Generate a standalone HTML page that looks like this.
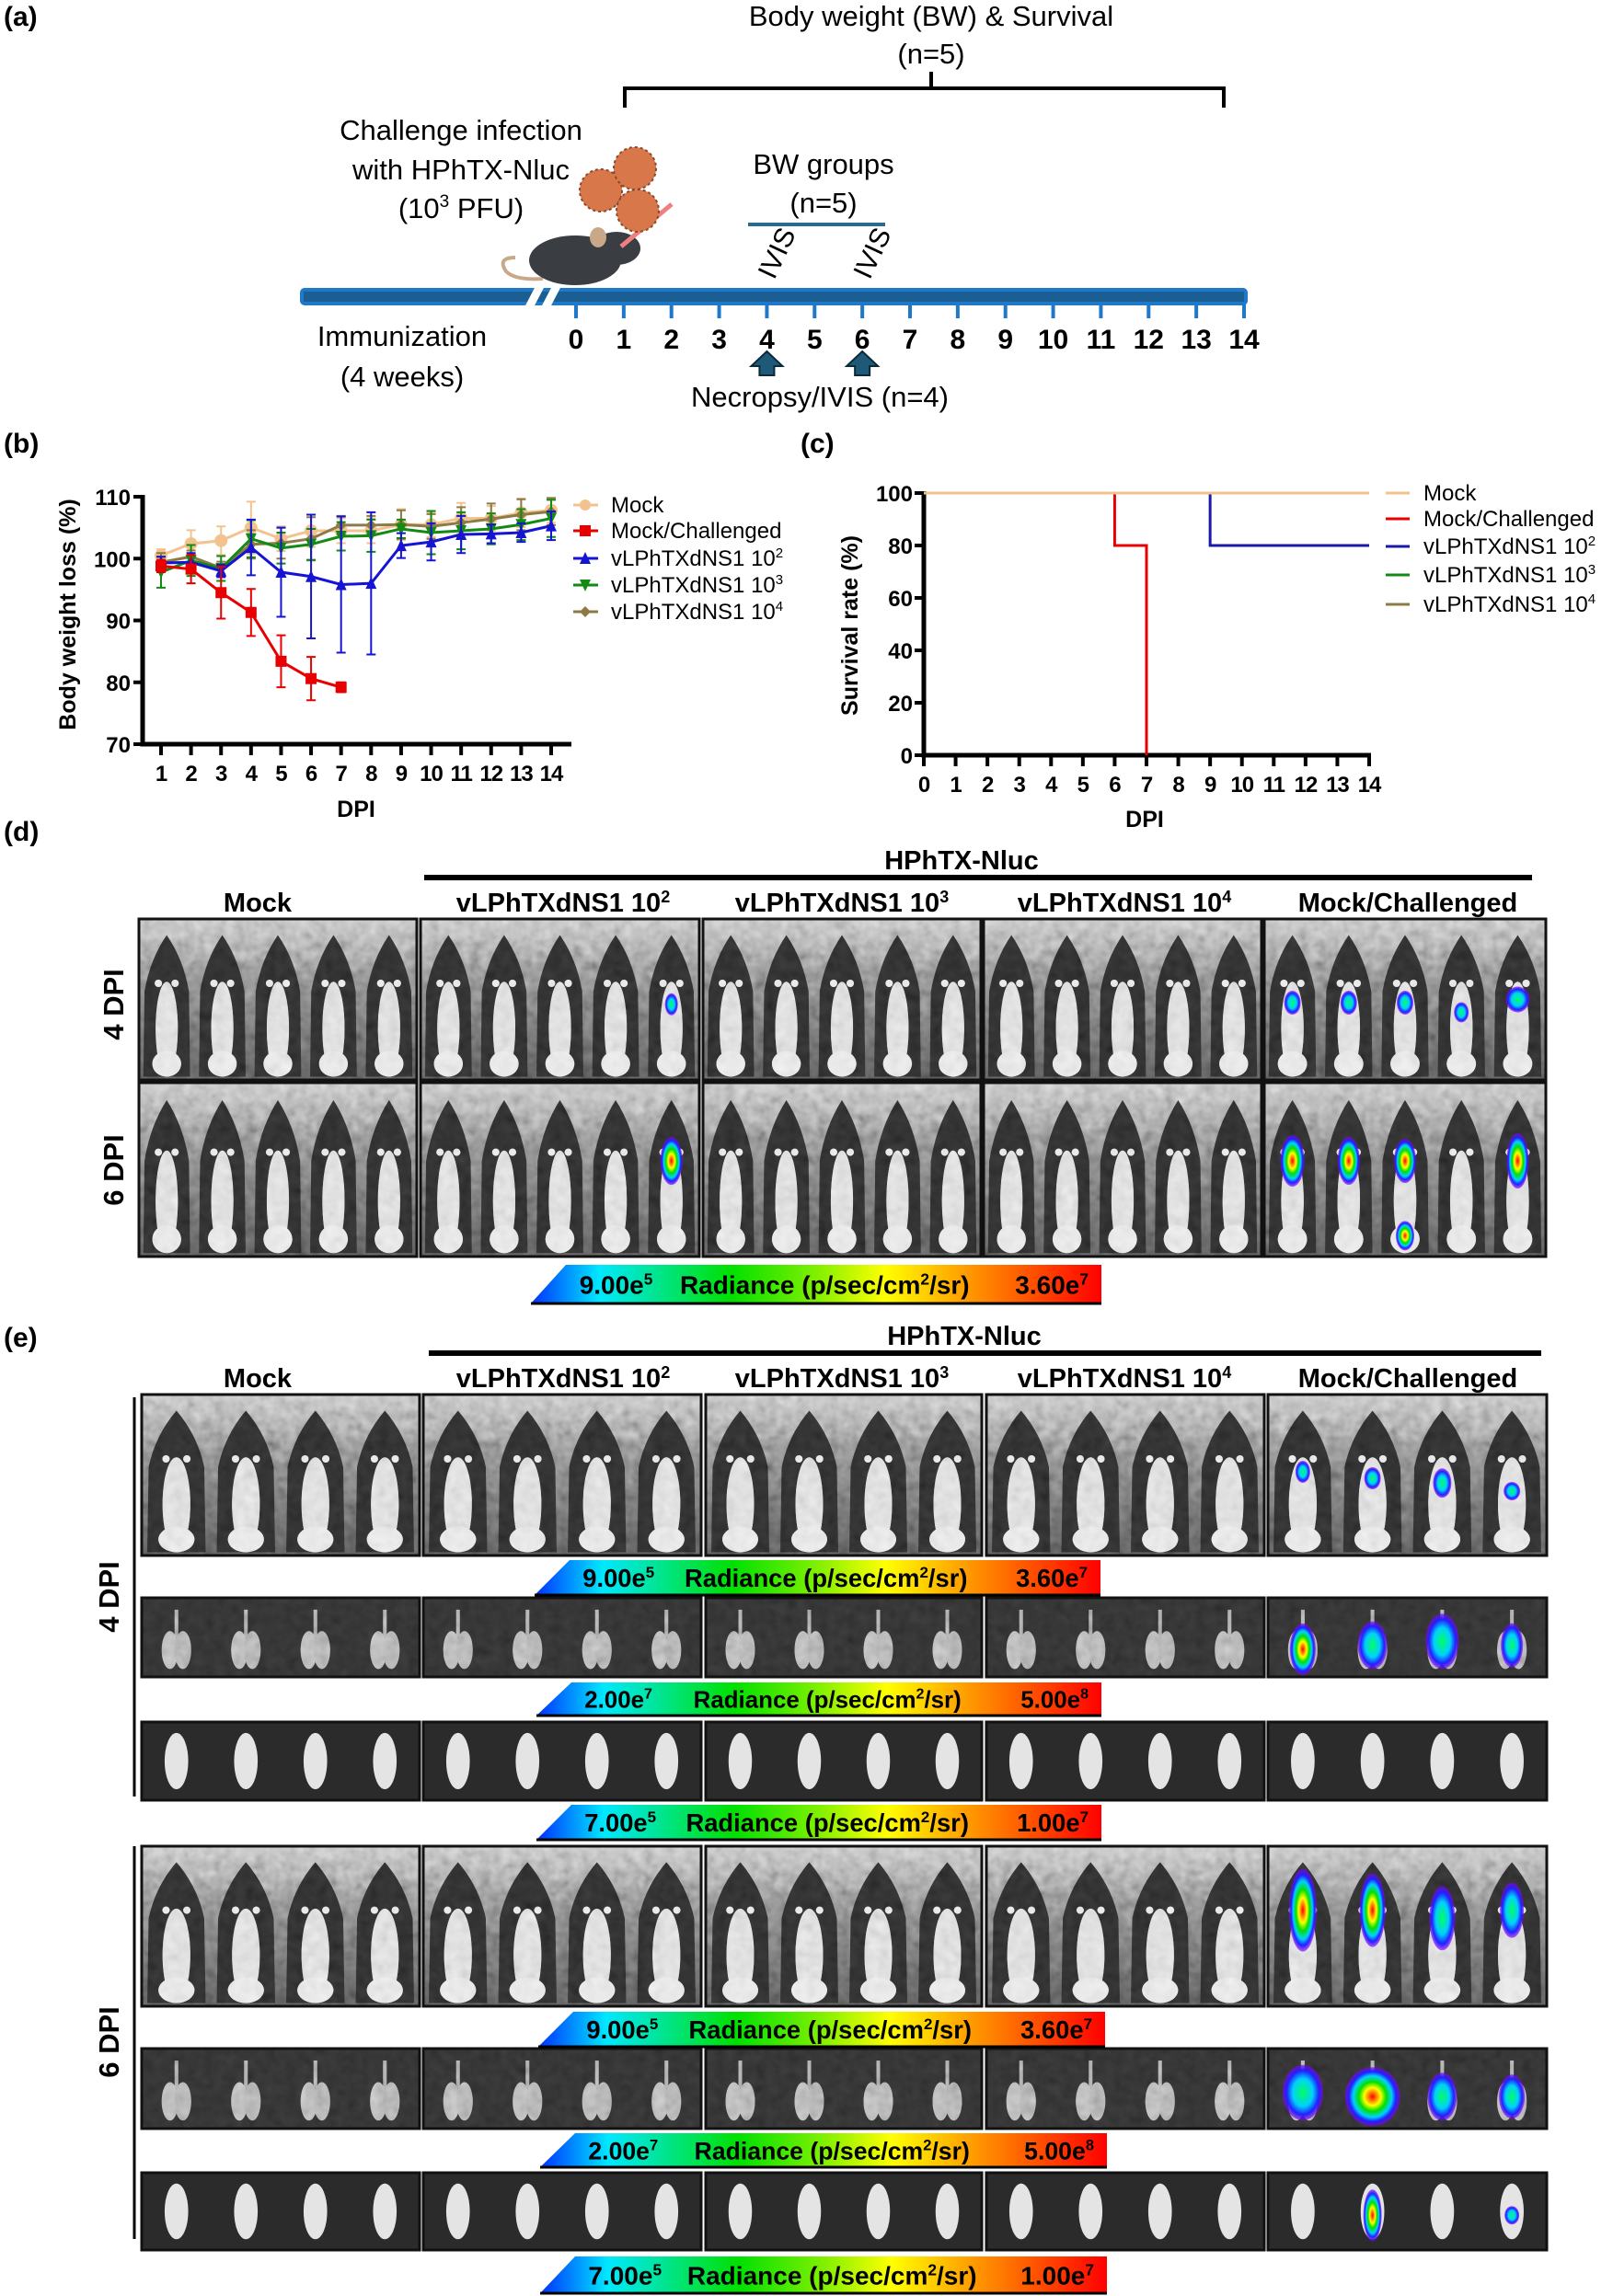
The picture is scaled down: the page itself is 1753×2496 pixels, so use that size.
<!DOCTYPE html>
<html><head><meta charset="utf-8"><style>
html,body{margin:0;padding:0;background:#fff;}
svg{display:block;font-family:"Liberation Sans",Arial,sans-serif;}
</style></head><body>
<svg id="fig" width="1753" height="2496" viewBox="0 0 1753 2496" xmlns="http://www.w3.org/2000/svg">
<defs>
<linearGradient id="cbg" x1="0" x2="1" y1="0" y2="0">
<stop offset="0" stop-color="#0030ff"/><stop offset="0.12" stop-color="#00e8ff"/><stop offset="0.35" stop-color="#00e000"/><stop offset="0.5" stop-color="#80f000"/><stop offset="0.62" stop-color="#ffff00"/><stop offset="0.78" stop-color="#ff9000"/><stop offset="1" stop-color="#ff0000"/>
</linearGradient>
<linearGradient id="mbg" x1="0" x2="0" y1="0" y2="1"><stop offset="0" stop-color="#b0b0b0"/><stop offset="0.3" stop-color="#767676"/><stop offset="1" stop-color="#4a4a4a"/></linearGradient>
<radialGradient id="blob"><stop offset="0" stop-color="#ff0000"/><stop offset="0.3" stop-color="#ffff00"/><stop offset="0.5" stop-color="#00e000"/><stop offset="0.7" stop-color="#00d0ff"/><stop offset="0.85" stop-color="#2020ff"/><stop offset="1" stop-color="#8000ff" stop-opacity="0.6"/></radialGradient>
<radialGradient id="blobc"><stop offset="0" stop-color="#00ff60"/><stop offset="0.5" stop-color="#00d0ff"/><stop offset="0.8" stop-color="#2020ff"/><stop offset="1" stop-color="#8000ff" stop-opacity="0.6"/></radialGradient>
<filter id="noise" x="0" y="0" width="100%" height="100%">
<feTurbulence type="fractalNoise" baseFrequency="0.09" numOctaves="2" seed="3"/>
<feColorMatrix type="matrix" values="0.33 0.33 0.33 0 0  0.33 0.33 0.33 0 0  0.33 0.33 0.33 0 0  0 0 0 0 1"/>
</filter>
</defs>

<!-- Panel a -->
<g>
<text x="4" y="28" font-size="30" font-weight="bold">(a)</text>
<text x="1012" y="28" font-size="31" text-anchor="middle">Body weight (BW) &amp; Survival</text>
<text x="1012" y="69" font-size="31" text-anchor="middle">(n=5)</text>
<path d="M679,117 V96 H1330 V117 M1012,96 V78" fill="none" stroke="#000" stroke-width="4"/>
<text x="501" y="152" font-size="31" text-anchor="middle">Challenge infection</text>
<text x="501" y="195" font-size="31" text-anchor="middle">with HPhTX-Nluc</text>
<text x="501" y="237" font-size="31" text-anchor="middle">(10<tspan font-size="19" dy="-12">3</tspan><tspan dy="12"> PFU)</tspan></text>
<g>
<path d="M560,280 q-20,0 -10,15 q10,10 40,8" fill="none" stroke="#c9a88a" stroke-width="4"/>
<ellipse cx="625" cy="283" rx="50" ry="27" fill="#3a3d42"/>
<ellipse cx="670" cy="270" rx="26" ry="18" fill="#3a3d42"/>
<ellipse cx="650" cy="258" rx="9" ry="11" fill="#c9a88a"/>
<line x1="675" y1="268" x2="730" y2="222" stroke="#f08080" stroke-width="5"/>
<circle cx="653" cy="207" r="23" fill="#d8774a" stroke="#8a4a2a" stroke-width="2" stroke-dasharray="3 3"/>
<circle cx="690" cy="183" r="23" fill="#d8774a" stroke="#8a4a2a" stroke-width="2" stroke-dasharray="3 3"/>
<circle cx="693" cy="229" r="23" fill="#d8774a" stroke="#8a4a2a" stroke-width="2" stroke-dasharray="3 3"/>
</g>
<text x="895" y="189" font-size="31" text-anchor="middle">BW groups</text>
<text x="895" y="231" font-size="31" text-anchor="middle">(n=5)</text>
<line x1="813" y1="244" x2="962" y2="244" stroke="#2a6a8a" stroke-width="4"/>
<g>
<rect x="326" y="313" width="1030" height="19" rx="5" fill="#1f78c8"/>
<rect x="330" y="317" width="1022" height="11" fill="#1a5e94"/>
<polygon points="570,334 582,311 592,311 580,334" fill="#fff"/>
<polygon points="588,334 600,311 610,311 598,334" fill="#fff"/>
<g id="tl-ticks"></g>
</g>
<text x="437" y="376" font-size="31" text-anchor="middle">Immunization</text>
<text x="437" y="420" font-size="31" text-anchor="middle">(4 weeks)</text>
<text x="891" y="442" font-size="31" text-anchor="middle">Necropsy/IVIS (n=4)</text>
</g>

<!-- Panel b -->
<g id="chart-b">
<text x="4" y="492" font-size="30" font-weight="bold">(b)</text>
<text transform="translate(82,668) rotate(-90)" font-size="25" font-weight="bold" text-anchor="middle">Body weight loss (%)</text>
<text x="387" y="888" font-size="25" font-weight="bold" text-anchor="middle">DPI</text>
</g>

<!-- Panel c -->
<g id="chart-c">
<text x="870" y="492" font-size="30" font-weight="bold">(c)</text>
<text transform="translate(932,680) rotate(-90)" font-size="25" font-weight="bold" text-anchor="middle">Survival rate (%)</text>
<text x="1244" y="899" font-size="25" font-weight="bold" text-anchor="middle">DPI</text>
</g>

<!-- Panel d -->
<g id="panel-d">
<text x="4" y="914" font-size="30" font-weight="bold">(d)</text>
<text x="1045" y="945" font-size="29" font-weight="bold" text-anchor="middle">HPhTX-Nluc</text>
<rect x="461" y="951" width="1204" height="6" fill="#000"/>
<text transform="translate(134,1092) rotate(-90)" font-size="31" font-weight="bold" text-anchor="middle">4 DPI</text>
<text transform="translate(134,1272) rotate(-90)" font-size="31" font-weight="bold" text-anchor="middle">6 DPI</text>
</g>

<!-- Panel e -->
<g id="panel-e">
<text x="4" y="1464" font-size="30" font-weight="bold">(e)</text>
<text x="1048" y="1462" font-size="29" font-weight="bold" text-anchor="middle">HPhTX-Nluc</text>
<rect x="466" y="1468" width="1209" height="6" fill="#000"/>
<line x1="146" y1="1519" x2="146" y2="1953" stroke="#000" stroke-width="3"/>
<line x1="146" y1="2007" x2="146" y2="2434" stroke="#000" stroke-width="3"/>
<text transform="translate(129,1736) rotate(-90)" font-size="31" font-weight="bold" text-anchor="middle">4 DPI</text>
<text transform="translate(129,2220) rotate(-90)" font-size="31" font-weight="bold" text-anchor="middle">6 DPI</text>
</g>
</svg>

<script>
// ===== Data: body weight (b) =====
const bwDays = [1,2,3,4,5,6,7,8,9,10,11,12,13,14];
const bwMock = [100.5,102.4,102.9,105,103.2,104.5,104.5,104.5,105.5,105.5,106.5,106.5,107.4,107.8];
const bwMockSd = [1,2.2,2.3,4.2,2,2.6,2,2,2.5,2,2.5,2,2.3,2];
const bwChall = [98.8,98.3,94.5,91.3,83.4,80.6,79.2];
const bwChallSd = [1,2.3,4.2,3.8,4.2,3.5,0.8];
const bw102 = [99.3,99.4,98,101.8,97.8,97.1,95.8,96,102.1,102.7,103.9,104,104.2,105.3];
const bw102Sd = [1,1.5,1,4.5,7.2,10,11,11.5,2,3,3,1.5,1.5,2.3];
const bw103 = [97.8,99.7,98.4,103.2,101.7,102.3,103.6,103.7,104.8,104.2,104.5,104.8,105.5,106.5];
const bw103Sd = [2.5,2.5,2,3,2.5,2.5,2.3,2.6,1.5,3.5,3,2.5,2.5,3];
const bw104 = [99.4,100.3,98.5,102.3,102.5,103.2,105.4,105.4,105.5,105.2,105.8,106.4,107.1,107.6];
const bw104Sd = [1.5,1,1,2.3,2.5,3.5,1.5,1.5,2.3,2,2.5,2.5,2.5,2.2];
const bwYTicks = [70,80,90,100,110];
// ===== Data: survival (c) =====
const svDays = [0,1,2,3,4,5,6,7,8,9,10,11,12,13,14];
const svMockT = [0,14]; const svMockV = [100,100];
const svChallT = [0,6,6,7,7]; const svChallV = [100,100,80,80,0];
const sv102T = [0,9,9,14]; const sv102V = [100,100,80,80];
const sv103T = [0,14]; const sv103V = [100,100];
const sv104T = [0,14]; const sv104V = [100,100];
const svYTicks = [0,20,40,60,80,100];
const tlDays = [0,1,2,3,4,5,6,7,8,9,10,11,12,13,14];
const legendNames = ["Mock","Mock/Challenged","vLPhTXdNS1 10","vLPhTXdNS1 10","vLPhTXdNS1 10"];
const legendSup = ["","","2","3","4"];

const NS="http://www.w3.org/2000/svg";
function mk(tag,attrs,parent){const e=document.createElementNS(NS,tag);for(const k in attrs)e.setAttribute(k,attrs[k]);if(parent)parent.appendChild(e);return e;}

// timeline ticks
const tlx=d=>626+d*(1352-626)/14;
const tlg=document.getElementById('tl-ticks');
tlDays.forEach(d=>{
 const t=mk('line',{x1:tlx(d),x2:tlx(d),y1:330,y2:346,stroke:'#1f78c8','stroke-width':4},tlg);
 
 
 const l=mk('text',{x:tlx(d),y:379,'font-size':30,'font-weight':'bold','text-anchor':'middle'},tlg);
 l.textContent=d;
 
 
});
[4,6].forEach(d=>{
 const iv=mk('text',{transform:`translate(${tlx(d)+8},305) rotate(-65)`,'font-size':30},tlg);
 iv.textContent='IVIS';
 
 
 const x=tlx(d);
 const ar=mk('polygon',{points:`${x},382 ${x+17},398 ${x+8},398 ${x+8},408 ${x-8},408 ${x-8},398 ${x-17},398`,fill:'#1e5a78',stroke:'#0a2a3a','stroke-width':2},tlg);
 
 
});

// ===== Chart b =====
const gb=document.getElementById('chart-b');
const xB=d=>175+(d-1)*(599-175)/13;
const yB=v=>540+(110-v)*(809-540)/40;
mk('path',{d:`M155,538 V809 H621`,fill:'none',stroke:'#000','stroke-width':5},gb);
bwYTicks.forEach(v=>{
 const t=mk('line',{x1:145,x2:155,y1:yB(v),y2:yB(v),stroke:'#000','stroke-width':4},gb);
 
 const l=mk('text',{x:142,y:yB(v)+9,'font-size':24,'font-weight':'bold','text-anchor':'end'},gb);
 l.textContent=v;
 
 
});
bwDays.forEach(d=>{
 const t=mk('line',{x1:xB(d),x2:xB(d),y1:809,y2:821,stroke:'#000','stroke-width':4},gb);
 
 const l=mk('text',{x:xB(d),y:849,'font-size':24,'font-weight':'bold','text-anchor':'middle','letter-spacing':-1},gb);
 l.textContent=d;
 
 
});
function marker(g,type,x,y,c,s){
 if(type==='circle')return mk('circle',{cx:x,cy:y,r:s,fill:c},g);
 if(type==='square')return mk('rect',{x:x-s,y:y-s,width:2*s,height:2*s,fill:c},g);
 if(type==='up')return mk('polygon',{points:`${x},${y-s-1} ${x+s},${y+s} ${x-s},${y+s}`,fill:c},g);
 if(type==='down')return mk('polygon',{points:`${x},${y+s+1} ${x+s},${y-s} ${x-s},${y-s}`,fill:c},g);
 return mk('polygon',{points:`${x},${y-s} ${x+s},${y} ${x},${y+s} ${x-s},${y}`,fill:c},g);
}
const bwSeries=[
 {v:bwMock,sd:bwMockSd,c:'#f2c38e',m:'circle',n:'mock'},
 {v:bw104,sd:bw104Sd,c:'#8c7b45',m:'diamond',n:'vlphtxdns1-1e4'},
 {v:bw103,sd:bw103Sd,c:'#138a13',m:'down',n:'vlphtxdns1-1e3'},
 {v:bw102,sd:bw102Sd,c:'#1414d2',m:'up',n:'vlphtxdns1-1e2'},
 {v:bwChall,sd:bwChallSd,c:'#e80000',m:'square',n:'mock-challenged'}];
bwSeries.forEach(s=>{
 const g=mk('g',{},gb);
 
 
 s.v.forEach((v,i)=>{
  const x=xB(bwDays[i]);
  const e=mk('path',{d:`M${x},${yB(v-s.sd[i])} V${yB(v+s.sd[i])} M${x-5},${yB(v-s.sd[i])} h10 M${x-5},${yB(v+s.sd[i])} h10`,stroke:s.c,'stroke-width':2,fill:'none'},g);
  
  
 });
 const pl=mk('polyline',{points:s.v.map((v,i)=>xB(bwDays[i])+','+yB(v)).join(' '),fill:'none',stroke:s.c,'stroke-width':3},g);
 
 
 s.v.forEach((v,i)=>{
  const p=marker(g,s.m,xB(bwDays[i]),yB(v),s.c,s.m==='circle'?7:6);
  
  
 });
});
const legB=[{c:'#f2c38e',m:'circle'},{c:'#e80000',m:'square'},{c:'#1414d2',m:'up'},{c:'#138a13',m:'down'},{c:'#8c7b45',m:'diamond'}];
const legBy=[549,577,607,636,665];
legB.forEach((l,i)=>{
 const g=mk('g',{},gb);
 
 
 mk('line',{x1:623,x2:650,y1:legBy[i],y2:legBy[i],stroke:l.c,'stroke-width':3},g);
 marker(g,l.m,636,legBy[i],l.c,6);
 const t=mk('text',{x:664,y:legBy[i]+8,'font-size':24},g);
 t.textContent=legendNames[i];
 if(legendSup[i]){const s=mk('tspan',{dy:-9,'font-size':15},t);s.textContent=legendSup[i];}
});

// ===== Chart c =====
const gc=document.getElementById('chart-c');
const xS=d=>1004+d*(1488-1004)/14;
const yS=v=>821-v*(821-536)/100;
mk('path',{d:`M1004,534 V821 H1490`,fill:'none',stroke:'#000','stroke-width':5},gc);
svYTicks.forEach(v=>{
 const t=mk('line',{x1:994,x2:1004,y1:yS(v),y2:yS(v),stroke:'#000','stroke-width':4},gc);
 
 const l=mk('text',{x:992,y:yS(v)+9,'font-size':24,'font-weight':'bold','text-anchor':'end'},gc);
 l.textContent=v;
 
 
});
svDays.forEach(d=>{
 const t=mk('line',{x1:xS(d),x2:xS(d),y1:821,y2:833,stroke:'#000','stroke-width':4},gc);
 
 const l=mk('text',{x:xS(d),y:861,'font-size':24,'font-weight':'bold','text-anchor':'middle','letter-spacing':-1},gc);
 l.textContent=d;
 
 
});
const svSeries=[
 {t:sv102T,v:sv102V,c:'#1a1aa8',n:'vlphtxdns1-1e2'},
 {t:svChallT,v:svChallV,c:'#e80000',n:'mock-challenged'},
 {t:sv103T,v:sv103V,c:'#138a13',n:'vlphtxdns1-1e3'},
 {t:sv104T,v:sv104V,c:'#8c7b45',n:'vlphtxdns1-1e4'},
 {t:svMockT,v:svMockV,c:'#f2c38e',n:'mock'}];
svSeries.forEach(s=>{
 const p=mk('polyline',{points:s.t.map((t,i)=>xS(t)+','+yS(s.v[i])).join(' '),fill:'none',stroke:s.c,'stroke-width':3},gc);
 
 
});
const legCc=['#f2c38e','#e80000','#1a1aa8','#138a13','#8c7b45'];
const legCy=[536,564,594,625,657];
legCc.forEach((c,i)=>{
 const g=mk('g',{},gc);
 
 
 mk('line',{x1:1506,x2:1532,y1:legCy[i],y2:legCy[i],stroke:c,'stroke-width':3},g);
 const t=mk('text',{x:1547,y:legCy[i]+8,'font-size':24},g);
 t.textContent=legendNames[i];
 if(legendSup[i]){const s=mk('tspan',{dy:-9,'font-size':15},t);s.textContent=legendSup[i];}
});

// ===== Image panels =====
const colHeaders=["Mock","vLPhTXdNS1 10","vLPhTXdNS1 10","vLPhTXdNS1 10","Mock/Challenged"];
const colSup=["","2","3","4",""];
function headers(g,y,xs){
 xs.forEach((x,i)=>{
  const t=mk('text',{x:x,y:y,'font-size':29,'font-weight':'bold','text-anchor':'middle'},g);
  t.textContent=colHeaders[i];
  if(colSup[i]){const s=mk('tspan',{dy:-10,'font-size':18},t);s.textContent=colSup[i];}
  
  
 });
}
function noise(gg,x,y,w,h,op){
 mk('rect',{x:x,y:y,width:w,height:h,filter:'url(#noise)',opacity:op,style:'mix-blend-mode:overlay'},gg);
}
function miceImg(g,x,y,w,h,n,blobs){
 const gg=mk('g',{},g);
 
 
 mk('rect',{x:x,y:y,width:w,height:h,fill:'url(#mbg)'},gg);
 const sw=w/n;
 for(let i=0;i<n;i++){
  const cx=x+sw*(i+0.5);
  mk('path',{d:`M${cx},${y+h*0.1} Q${cx+sw*0.3},${y+h*0.25} ${cx+sw*0.4},${y+h*0.45} L${cx+sw*0.42},${y+h*0.98} L${cx-sw*0.42},${y+h*0.98} L${cx-sw*0.4},${y+h*0.45} Q${cx-sw*0.3},${y+h*0.25} ${cx},${y+h*0.1} Z`,fill:'#262626'},gg);
  mk('ellipse',{cx:cx,cy:y+h*0.68,rx:sw*0.2,ry:h*0.29,fill:'#cfcfcf'},gg);
  mk('ellipse',{cx:cx,cy:y+h*0.9,rx:sw*0.26,ry:h*0.08,fill:'#dcdcdc'},gg);
  mk('circle',{cx:cx-sw*0.15,cy:y+h*0.4,r:4,fill:'#ddd'},gg);
  mk('circle',{cx:cx+sw*0.15,cy:y+h*0.4,r:4,fill:'#ddd'},gg);
 }
 noise(gg,x,y,w,h,0.8);
 (blobs||[]).forEach(b=>{mk('ellipse',{cx:x+sw*(b[0]+0.5),cy:y+h*b[1],rx:b[2],ry:b[3],fill:b[4]?'url(#blob)':'url(#blobc)'},gg);});
 mk('rect',{x:x,y:y,width:w,height:h,fill:'none',stroke:'#111','stroke-width':3},gg);
}
function organImg(g,x,y,w,h,type,blobs){
 const gg=mk('g',{},g);
 
 
 mk('rect',{x:x,y:y,width:w,height:h,fill:'#2b2b2b'},gg);
 const sw=w/4;
 for(let i=0;i<4;i++){
  const cx=x+sw*(i+0.5);
  if(type==='lung'){
   mk('line',{x1:cx,x2:cx,y1:y+h*0.15,y2:y+h*0.5,stroke:'#999','stroke-width':4},gg);
   mk('ellipse',{cx:cx-7,cy:y+h*0.66,rx:sw*0.12,ry:h*0.24,fill:'#a8a8a8'},gg);
   mk('ellipse',{cx:cx+7,cy:y+h*0.66,rx:sw*0.12,ry:h*0.24,fill:'#a0a0a0'},gg);
  } else {
   mk('ellipse',{cx:cx,cy:y+h*0.5,rx:sw*0.17,ry:h*0.36,fill:'#e4e4e4'},gg);
  }
 }
 if(type==='lung')noise(gg,x,y,w,h,0.6);
 (blobs||[]).forEach(b=>{mk('ellipse',{cx:x+sw*(b[0]+0.5),cy:y+h*b[1],rx:b[2],ry:b[3],fill:b[4]?'url(#blob)':'url(#blobc)'},gg);});
 mk('rect',{x:x,y:y,width:w,height:h,fill:'none',stroke:'#111','stroke-width':3},gg);
}
function colorbar(g,x,y,w,h,lo,loE,hi,hiE){
 const gg=mk('g',{},g);
 
 
 mk('polygon',{points:`${x+38},${y} ${x+w},${y} ${x+w},${y+h} ${x},${y+h}`,fill:'url(#cbg)'},gg);
 mk('line',{x1:x,x2:x+w,y1:y+h,y2:y+h,stroke:'#000','stroke-width':3},gg);
 const fs=Math.min(28,h*0.72);
 const ty=y+h*0.5+fs*0.37;
 const a=mk('text',{x:x+w*0.085,y:ty,'font-size':fs,'font-weight':'bold'},gg);a.textContent=lo;
 const s1=mk('tspan',{dy:-10,'font-size':fs*0.62},a);s1.textContent=loE;
 const b=mk('text',{x:x+w*0.515,y:ty,'font-size':fs,'font-weight':'bold','text-anchor':'middle'},gg);b.textContent='Radiance (p/sec/cm';
 const s2=mk('tspan',{dy:-10,'font-size':fs*0.62},b);s2.textContent='2';
 const s3=mk('tspan',{dy:10},b);s3.textContent='/sr)';
 const c=mk('text',{x:x+w-14,y:ty,'font-size':fs,'font-weight':'bold','text-anchor':'end'},gg);c.textContent=hi;
 const s4=mk('tspan',{dy:-10,'font-size':fs*0.62},c);s4.textContent=hiE;
}

// Panel d
const gd=document.getElementById('panel-d');
headers(gd,991,[280,612,915,1222,1530]);
const dCols=[[151,302],[457,303],[764,302],[1069,302],[1374,306]];
const dBlobs4=[[],[[4,0.53,7,12,0]],[],[],[[0,0.52,9,13,0],[1,0.52,9,13,0],[2,0.52,9,13,0],[3,0.58,8,11,0],[4,0.5,13,14,0]]];
const dBlobs6=[[],[[4,0.45,12,26,1]],[],[],[[0,0.45,13,28,1],[1,0.45,12,26,1],[2,0.45,12,24,1],[2,0.88,10,16,1],[4,0.45,12,30,1]]];
dCols.forEach((c,i)=>{miceImg(gd,c[0],999,c[1],175,5,dBlobs4[i]);miceImg(gd,c[0],1177,c[1],189,5,dBlobs6[i]);});
colorbar(gd,577,1375,620,42,'9.00e','5','3.60e','7');

// Panel e
const ge=document.getElementById('panel-e');
headers(ge,1508,[280,612,915,1222,1530]);
const eCols=[[154,302],[460,302],[767,300],[1072,302],[1378,303]];
const e4m=[[0,0.48,8,12,0],[1,0.52,9,12,0],[2,0.55,10,16,0],[3,0.6,9,10,0]];
const e4l=[[0,0.65,14,28,1],[1,0.6,16,26,0],[2,0.55,18,30,0],[3,0.6,12,24,0]];
const e6m=[[0,0.4,15,45,1],[1,0.4,14,40,1],[2,0.45,14,35,0],[3,0.4,13,30,0]];
const e6l=[[0,0.55,22,30,0],[1,0.6,30,32,1],[2,0.6,16,26,0],[3,0.6,14,24,0]];
const e6b=[[1,0.55,10,28,1],[3,0.55,8,10,0]];
eCols.forEach((c,i)=>{
 const last=i===4;
 miceImg(ge,c[0],1516,c[1],175,4,last?e4m:[]);
 organImg(ge,c[0],1737,c[1],86,'lung',last?e4l:[]);
 organImg(ge,c[0],1872,c[1],85,'brain',[]);
 miceImg(ge,c[0],2007,c[1],174,4,last?e6m:[]);
 organImg(ge,c[0],2227,c[1],87,'lung',last?e6l:[]);
 organImg(ge,c[0],2362,c[1],84,'brain',last?e6b:[]);
});
colorbar(ge,581,1696,615,38,'9.00e','5','3.60e','7');
colorbar(ge,583,1829,614,36,'2.00e','7','5.00e','8');
colorbar(ge,583,1962,614,38,'7.00e','5','1.00e','7');
colorbar(ge,585,2187,616,38,'9.00e','5','3.60e','7');
colorbar(ge,587,2319,616,37,'2.00e','7','5.00e','8');
colorbar(ge,587,2453,616,40,'7.00e','5','1.00e','7');
</script>
</body></html>
